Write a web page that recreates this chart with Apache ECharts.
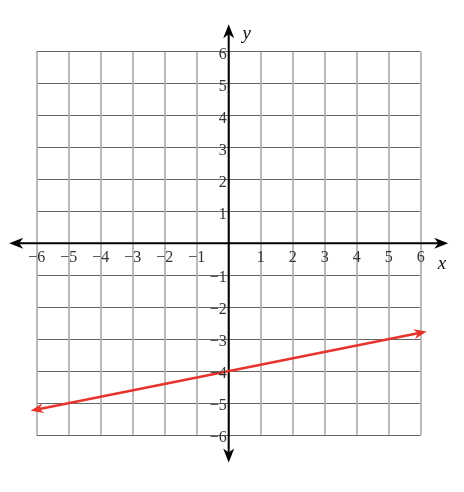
<!DOCTYPE html>
<html><head><meta charset="utf-8">
<script src="https://cdn.jsdelivr.net/npm/echarts@6/dist/echarts.min.js"></script>
<style>html,body{margin:0;padding:0;background:#fff}#c{width:464px;height:492px}</style>
</head><body><div id="c"></div>
<script>
var xTicks = [-6,-5,-4,-3,-2,-1,0,1,2,3,4,5,6];
var yTicks = [-6,-5,-4,-3,-2,-1,0,1,2,3,4,5,6];
var lineX = [-6.19, 6.19];
var lineY = [-5.24, -2.76];
var axisExt = 6.86;

var chart = echarts.init(document.getElementById('c'));
var fmt = function(v){ return v === 0 ? '' : String(v).replace('-', '\u2212'); };
var serif = 'Liberation Serif';

function arrowHead(tip, ux, uy, L, W, N, color) {
  var bx = tip[0] - ux * L, by = tip[1] - uy * L;
  var px = -uy, py = ux;
  return {
    type: 'polygon',
    shape: {points: [
      tip,
      [bx + px * W, by + py * W],
      [tip[0] - ux * (L - N), tip[1] - uy * (L - N)],
      [bx - px * W, by - py * W]
    ]},
    style: {fill: color}
  };
}

function arrowSeries(segments, color, width, L, W, N) {
  return {
    type: 'custom', clip: false, silent: true, z: 5,
    encode: {x: [0, 2], y: [1, 3]},
    data: segments,
    renderItem: function (params, api) {
      var p1 = api.coord([api.value(0), api.value(1)]);
      var p2 = api.coord([api.value(2), api.value(3)]);
      var dx = p2[0] - p1[0], dy = p2[1] - p1[1];
      var len = Math.sqrt(dx * dx + dy * dy);
      var ux = dx / len, uy = dy / len;
      var s1 = [p1[0] + ux * (L - N), p1[1] + uy * (L - N)];
      var s2 = [p2[0] - ux * (L - N), p2[1] - uy * (L - N)];
      return {
        type: 'group',
        children: [
          {type: 'line', shape: {x1: s1[0], y1: s1[1], x2: s2[0], y2: s2[1]},
           style: {stroke: color, lineWidth: width}},
          arrowHead(p2, ux, uy, L, W, N, color),
          arrowHead(p1, -ux, -uy, L, W, N, color)
        ]
      };
    }
  };
}

var xLabelData = xTicks.filter(function(t){ return t !== 0; }).map(function(t){ return [t, 0]; });
var yLabelData = yTicks.filter(function(t){ return t !== 0; }).map(function(t){ return [0, t]; });

chart.setOption({
  animation: false,
  grid: {left: 36.7, right: 43.3, top: 51.7, bottom: 57},
  xAxis: {
    type: 'value', min: xTicks[0], max: xTicks[xTicks.length-1], interval: 1,
    axisLine: {show: false},
    axisTick: {show: false},
    axisLabel: {show: false},
    splitLine: {show: true, lineStyle: {color: '#aaaaaa', width: 1.6}},
    name: 'x', nameLocation: 'end', nameGap: 17,
    nameTextStyle: {fontFamily: serif, fontStyle: 'italic', fontSize: 19, color: '#111', verticalAlign: 'top', padding: [11,0,0,0]}
  },
  yAxis: {
    type: 'value', min: yTicks[0], max: yTicks[yTicks.length-1], interval: 1,
    axisLine: {show: false},
    axisTick: {show: false},
    axisLabel: {show: false},
    splitLine: {show: true, lineStyle: {color: '#666666', width: 1}},
    name: 'y', nameLocation: 'end', nameGap: 8,
    nameTextStyle: {fontFamily: serif, fontStyle: 'italic', fontSize: 19, color: '#111', padding: [0,0,0,36]}
  },
  series: [
    arrowSeries([[-axisExt, 0, axisExt, 0], [0, -axisExt, 0, axisExt]], '#000', 2, 14, 5.5, 4),
    arrowSeries([[lineX[0], lineY[0], lineX[1], lineY[1]]], '#e8332a', 2.5, 13, 5, 4),
    {
      type: 'custom', clip: false, silent: true, z: 6,
      encode: {x: 0, y: 1},
      data: xLabelData,
      renderItem: function (params, api) {
        var p = api.coord([api.value(0), api.value(1)]);
        return {type: 'text', style: {text: fmt(api.value(0)), x: p[0], y: p[1] + 14,
          align: 'center', verticalAlign: 'middle', fontFamily: serif, fontSize: 16, fill: '#333'}};
      }
    },
    {
      type: 'custom', clip: false, silent: true, z: 6,
      encode: {x: 0, y: 1},
      data: yLabelData,
      renderItem: function (params, api) {
        var p = api.coord([api.value(0), api.value(1)]);
        return {type: 'text', style: {text: fmt(api.value(1)), x: p[0] - 2, y: p[1] + 3,
          align: 'right', verticalAlign: 'middle', fontFamily: serif, fontSize: 16, fill: '#333'}};
      }
    }
  ]
});
</script></body></html>
